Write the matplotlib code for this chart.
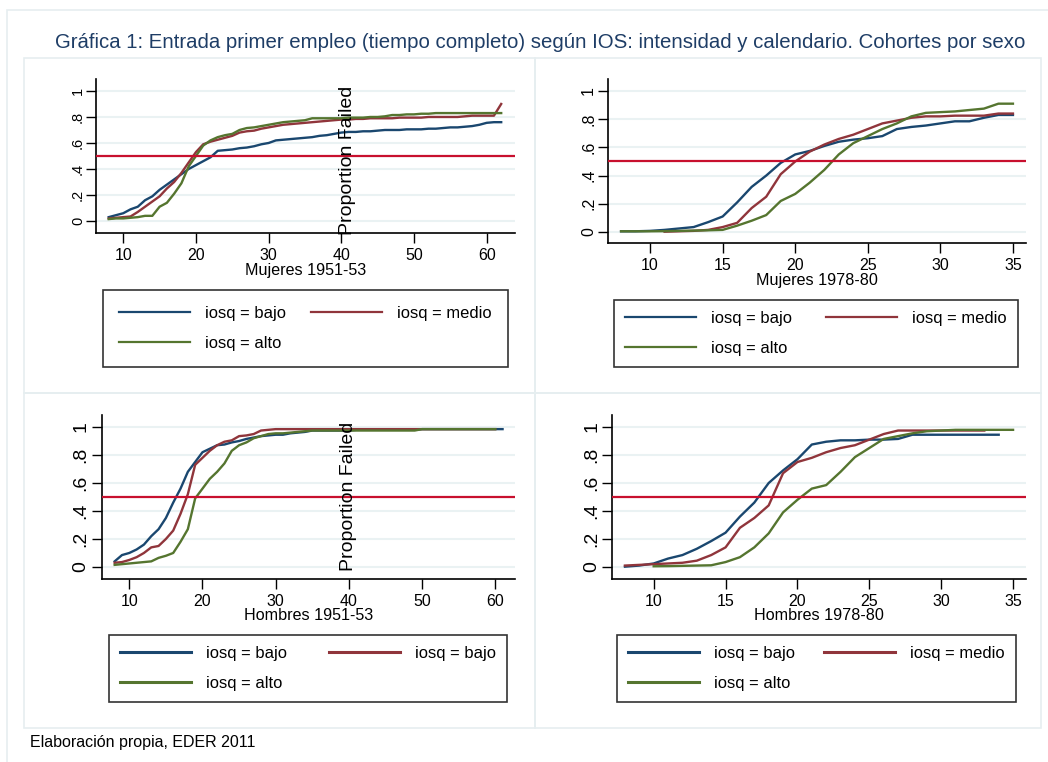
import numpy as np
import matplotlib
matplotlib.use("Agg")
import matplotlib.pyplot as plt
from matplotlib.patches import Rectangle

plt.rcParams['font.family'] = ['Liberation Sans', 'DejaVu Sans']

W, H = 1048, 762

# ---- data: cumulative proportion entering first full-time job, by age ----
# Mujeres 1951-53
m51_age = list(range(8, 63))
m51_bajo = [.03, .045, .06, .09, .11, .16, .19, .24, .28, .32, .36, .40, .43, .46, .49, .54, .545, .55, .56, .565,
            .575, .59, .60, .62, .625, .63, .635, .64, .645, .655, .66, .67, .68, .685, .685, .69, .69, .695, .70, .70,
            .70, .705, .705, .705, .71, .71, .715, .72, .72, .725, .73, .74, .755, .76, .76]
m51_medio = [.02, .025, .03, .035, .07, .11, .15, .19, .25, .30, .37, .45, .53, .59, .61, .625, .64, .655, .68, .69,
             .695, .71, .72, .73, .74, .745, .75, .755, .76, .765, .77, .775, .78, .78, .785, .785, .79, .79, .79, .79,
             .795, .795, .795, .795, .80, .80, .80, .80, .80, .805, .81, .81, .81, .81, .90]
m51_alto = [.015, .02, .02, .025, .03, .04, .04, .11, .14, .21, .29, .42, .50, .58, .62, .645, .66, .67, .70, .715,
            .72, .73, .74, .75, .76, .765, .77, .775, .79, .79, .79, .79, .79, .795, .795, .795, .80, .80, .805, .815,
            .815, .82, .82, .825, .825, .83, .83, .83, .83, .83, .83, .83, .83, .83, .83]

# Mujeres 1978-80
m78_age_bajo = list(range(8, 36))
m78_bajo = [.005, .005, .008, .015, .025, .035, .07, .11, .21, .32, .40, .49, .55, .575, .61, .64, .655, .665, .68,
            .73, .745, .755, .77, .785, .785, .81, .83, .83]
m78_age_medio = list(range(11, 36))
m78_medio = [.002, .005, .008, .015, .035, .065, .17, .25, .41, .50, .57, .62, .66, .69, .73, .77, .79, .81, .82,
             .82, .825, .825, .825, .84, .84]
m78_age_alto = list(range(8, 36))
m78_alto = [.005, .005, .005, .006, .008, .01, .012, .015, .045, .08, .12, .22, .27, .35, .44, .55, .63, .68, .73,
            .77, .82, .845, .85, .855, .865, .875, .91, .91]

# Hombres 1951-53
h51_age_bajo = list(range(8, 62))
h51_bajo = [.04, .085, .10, .125, .16, .22, .27, .35, .46, .56, .68, .75, .82, .845, .87, .875, .89, .90, .915, .925,
            .935, .94, .945, .945, .955, .96, .965, .975, .975, .975, .975, .975, .975, .98,
            .98, .98, .98, .98, .98, .98, .98, .98,
            .985, .985, .985, .985, .985, .985, .985, .985, .985, .985, .985, .985]
h51_age_medio = list(range(8, 61))
h51_medio = [.03, .035, .05, .07, .10, .14, .15, .20, .26, .38, .52, .73, .78, .83, .87, .895, .905, .935, .94, .95,
             .975, .98] + [.985] * 31
h51_age_alto = list(range(8, 61))
h51_alto = [.015, .02, .025, .03, .035, .04, .065, .08, .10, .18, .27, .49, .56, .63, .68, .74, .83, .87, .89, .92,
            .935, .95, .955, .955, .96, .965, .97, .975] + [.975] * 14 + [.985] * 11

# Hombres 1978-80
h78_age_bajo = list(range(8, 35))
h78_bajo = [.002, .01, .025, .06, .085, .13, .185, .245, .36, .46, .60, .69, .77, .875, .895, .905, .905, .91, .91,
            .915, .945, .945, .945, .945, .945, .945, .945]
h78_age_medio = list(range(8, 34))
h78_medio = [.01, .015, .02, .025, .03, .045, .085, .14, .28, .35, .44, .67, .75, .78, .82, .85, .87, .91, .95, .975,
             .975, .975, .975, .975, .975, .975]
h78_age_alto = list(range(10, 36))
h78_alto = [.005, .006, .008, .01, .012, .035, .07, .14, .24, .39, .48, .56, .585, .68, .785, .85, .915, .935, .955,
            .97, .975, .98, .98, .98, .98, .98]

y_ticks = [0, .2, .4, .6, .8, 1]
y_ticklabels = ['0', '.2', '.4', '.6', '.8', '1']

C_BAJO, C_MEDIO, C_ALTO = '#1a476f', '#90353b', '#55752f'
C_REF = '#c8102e'
C_GRID = '#eaf2f3'
C_FRAME = '#e6eef0'

fig = plt.figure(figsize=(W / 100, H / 100), dpi=100)
fig.patch.set_facecolor('white')


def px_axes(x0, y0, x1, y1):
    return fig.add_axes([x0 / W, 1 - y1 / H, (x1 - x0) / W, (y1 - y0) / H])


def px_rect(x0, y0, x1, y1, **kw):
    fig.add_artist(Rectangle((x0 / W, 1 - y1 / H), (x1 - x0) / W, (y1 - y0) / H,
                             transform=fig.transFigure, fill=False, **kw))


# outer frame and panel frames
px_rect(7, 10, 1060, 780, edgecolor=C_FRAME, lw=1.2)
for (x0, y0, x1, y1) in [(24, 58, 535, 393), (535, 58, 1041, 393), (24, 393, 535, 728), (535, 393, 1041, 728)]:
    px_rect(x0, y0, x1, y1, edgecolor=C_FRAME, lw=1.2)

fig.text(540 / W, 1 - 43 / H,
         'Gráfica 1: Entrada primer empleo (tiempo completo) según IOS: intensidad y calendario. Cohortes por sexo',
         ha='center', va='center', fontsize=14.7, color='#1e3d66')
fig.text(30 / W, 1 - 743 / H, 'Elaboración propia, EDER 2011', ha='left', va='center', fontsize=11.5)


def panel(box, xlim, ylim, xticks, series, xlabel, xlabel_y, ytick_fs, ytick_pad, legend_box, labels, leg_pad,
          leg_lw=1.6, prop_failed=None):
    x0, y0, x1, y1 = box
    ax = px_axes(*box)
    ax.set_xlim(*xlim)
    ax.set_ylim(*ylim)
    for sp in ('top', 'right'):
        ax.spines[sp].set_visible(False)
    for sp in ('left', 'bottom'):
        ax.spines[sp].set_linewidth(1.2)
    for v in y_ticks:
        ax.axhline(v, color=C_GRID, lw=1.5, zorder=0)
    handles = []
    for (ages, vals, col) in series:
        h, = ax.plot(ages, vals, color=col, lw=1.7, zorder=3)
        handles.append(h)
    ax.axhline(0.5, color=C_REF, lw=1.6, zorder=4)
    ax.set_xticks(xticks)
    ax.set_xticklabels([str(t) for t in xticks], fontsize=11.5)
    ax.set_yticks(y_ticks)
    ax.set_yticklabels(y_ticklabels, fontsize=ytick_fs, rotation=90, va='center')
    ax.tick_params(axis='both', direction='out', length=7, width=1)
    ax.tick_params(axis='y', pad=ytick_pad)
    ax.tick_params(axis='x', pad=4)
    ax.set_xlabel(xlabel, fontsize=11.6)
    ax.xaxis.label.set_va('center')
    ax.xaxis.set_label_coords(0.5, (y1 - xlabel_y) / (y1 - y0))
    if prop_failed is not None:
        px, py = prop_failed
        ax.text(px, py, 'Proportion Failed', rotation=90, ha='center', va='center',
                fontsize=14, transform=ax.get_xaxis_transform(), zorder=5)
    lx0, ly0, lx1, ly1 = legend_box
    order = [0, 2, 1]
    leg = ax.legend([handles[i] for i in order], [labels[i] for i in order], ncol=2, mode='expand',
                    loc='upper left',
                    bbox_to_anchor=(lx0 / W, 1 - ly1 / H, (lx1 - lx0) / W, (ly1 - ly0) / H),
                    bbox_transform=fig.transFigure, fontsize=11.9, frameon=True, fancybox=False,
                    handlelength=4.3, handletextpad=0.9, labelspacing=0.92, borderpad=leg_pad,
                    borderaxespad=0, columnspacing=1.0)
    leg.get_frame().set_edgecolor('black')
    leg.get_frame().set_linewidth(1.2)
    for ln in leg.get_lines():
        ln.set_linewidth(leg_lw)
    return ax


panel((96, 79, 515, 233), (6.25, 63.9), (-0.092, 1.092), [10, 20, 30, 40, 50, 60],
      [(m51_age, m51_bajo, C_BAJO), (m51_age, m51_medio, C_MEDIO), (m51_age, m51_alto, C_ALTO)],
      'Mujeres 1951-53', 270, 10.5, 1, (103, 290, 508, 367),
      ['iosq = bajo', 'iosq = medio', 'iosq = alto'], 0.97, prop_failed=(40.8, 0.47))

panel((608, 79, 1026, 243), (7.1, 35.9), (-0.078, 1.085), [10, 15, 20, 25, 30, 35],
      [(m78_age_bajo, m78_bajo, C_BAJO), (m78_age_medio, m78_medio, C_MEDIO), (m78_age_alto, m78_alto, C_ALTO)],
      'Mujeres 1978-80', 281, 11.5, 1.5, (614, 300, 1018, 367),
      ['iosq = bajo', 'iosq = medio', 'iosq = alto'], 0.67)

panel((102, 415, 515, 579), (6.27, 62.7), (-0.086, 1.086), [10, 20, 30, 40, 50, 60],
      [(h51_age_bajo, h51_bajo, C_BAJO), (h51_age_medio, h51_medio, C_MEDIO), (h51_age_alto, h51_alto, C_ALTO)],
      'Hombres 1951-53', 616, 14, 2, (109, 635, 507, 702),
      ['iosq = bajo', 'iosq = bajo', 'iosq = alto'], 0.67, leg_lw=2.2, prop_failed=(40, 0.506))

panel((612, 415, 1026, 579), (7.1, 35.9), (-0.086, 1.086), [10, 15, 20, 25, 30, 35],
      [(h78_age_bajo, h78_bajo, C_BAJO), (h78_age_medio, h78_medio, C_MEDIO), (h78_age_alto, h78_alto, C_ALTO)],
      'Hombres 1978-80', 616, 14, 1.5, (617, 635, 1016, 702),
      ['iosq = bajo', 'iosq = medio', 'iosq = alto'], 0.67, leg_lw=2.2)

fig.savefig('out.png', dpi=100, facecolor='white')
